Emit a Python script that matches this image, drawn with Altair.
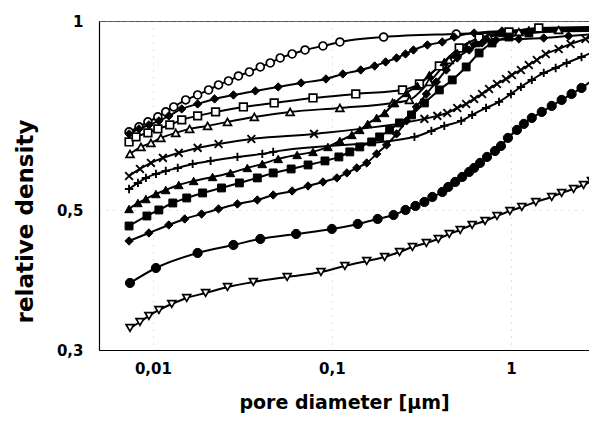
import altair as alt
import pandas as pd

# ---- data (pore diameter in µm, relative density) ----
oc_x = [0.00736, 0.00836, 0.00938, 0.01066, 0.0118, 0.01308, 0.01525, 0.01778, 0.02047, 0.02326, 0.02644,
        0.03005, 0.03459, 0.03981, 0.04524, 0.05142, 0.05995, 0.0708, 0.08913, 0.1108, 0.1945, 0.4948, 2.966]
oc_y = [0.6664, 0.6787, 0.6913, 0.7040, 0.7170, 0.7302, 0.7491, 0.7629, 0.7770, 0.7914, 0.8030,
        0.8178, 0.8299, 0.8452, 0.8577, 0.8735, 0.8864, 0.8994, 0.9127, 0.9261, 0.9431, 0.9535, 0.9641]

fd1_x = [0.00736, 0.00836, 0.0095, 0.0108, 0.01227, 0.01449, 0.01778, 0.0221, 0.02818, 0.03734, 0.05012,
         0.06725, 0.09262, 0.1151, 0.1449, 0.1733, 0.1995, 0.2297, 0.2578, 0.2854, 0.3415, 0.4137, 0.4823,
         0.6230, 0.8913, 2.966]
fd1_y = [0.6616, 0.6738, 0.6837, 0.6938, 0.7066, 0.7249, 0.7382, 0.7519, 0.7629, 0.7742, 0.7856,
         0.7972, 0.8089, 0.8238, 0.8360, 0.8483, 0.8608, 0.8735, 0.8864, 0.8994, 0.9160, 0.9261, 0.9431,
         0.9570, 0.9641, 0.9747]

os_x = [0.00736, 0.00805, 0.00938, 0.01066, 0.01243, 0.01449, 0.01778, 0.02239, 0.03203, 0.04761, 0.07842,
        0.1359, 0.248, 0.3083, 0.3981, 0.5142, 0.6640, 0.9747, 1.431, 2.966]
os_y = [0.6424, 0.6543, 0.6640, 0.6738, 0.6837, 0.6963, 0.7066, 0.7170, 0.7302, 0.7409, 0.7546,
        0.7657, 0.7770, 0.7943, 0.8483, 0.9060, 0.9397, 0.9605, 0.9747, 0.9783]

ot_x = [0.00745, 0.00858, 0.00975, 0.01108, 0.01342, 0.01605, 0.02021, 0.0261, 0.03687, 0.05843, 0.1108,
        0.2182, 0.2712, 0.3503, 0.4524, 0.5843, 0.7548, 1.108, 1.848, 2.966]
ot_y = [0.6149, 0.6308, 0.6401, 0.6519, 0.6640, 0.6738, 0.6812, 0.6913, 0.7040, 0.7170, 0.7275,
        0.7409, 0.7491, 0.8001, 0.8671, 0.9160, 0.9431, 0.9605, 0.9676, 0.9712]

xc_x = [0.00736, 0.00847, 0.00975, 0.01137, 0.01395, 0.01778, 0.02326, 0.03548, 0.07943, 0.3286, 0.3880,
        0.441, 0.5012, 0.5623, 0.6230, 0.6901, 0.7548, 0.8360, 0.9381, 1.013, 1.137, 1.259, 1.395, 1.565,
        1.848, 2.154, 2.610, 2.966]
xc_y = [0.5672, 0.5819, 0.5949, 0.6059, 0.6171, 0.6285, 0.6377, 0.6495, 0.6616, 0.6989, 0.7066,
        0.7143, 0.7275, 0.7382, 0.7519, 0.7657, 0.7799, 0.7943, 0.8089, 0.8208, 0.8360, 0.8514, 0.8671,
        0.8864, 0.9027, 0.9193, 0.9363, 0.9466]

pl_x = [0.00736, 0.00825, 0.00914, 0.0104, 0.0118, 0.01377, 0.01668, 0.021, 0.02966, 0.04084, 0.047,
        0.2891, 0.3594, 0.4244, 0.5275, 0.6072, 0.7263, 0.8577, 1.0, 1.137, 1.308, 1.525, 1.778, 2.047,
        2.480, 2.966]
pl_y = [0.5408, 0.5529, 0.5631, 0.5714, 0.5777, 0.5841, 0.5927, 0.5993, 0.6081, 0.6149, 0.6194,
        0.6543, 0.6688, 0.6812, 0.6938, 0.7091, 0.7275, 0.7437, 0.7657, 0.7856, 0.8060, 0.8269, 0.8420,
        0.8577, 0.8767, 0.8961]

ft_x = [0.00736, 0.00825, 0.00914, 0.0104, 0.0118, 0.01395, 0.0169, 0.02154, 0.02712, 0.03371, 0.04084,
        0.05012, 0.06391, 0.07842, 0.09502, 0.1108, 0.1292, 0.1431, 0.1585, 0.1778, 0.197, 0.2239, 0.2610,
        0.3005, 0.3503, 0.4244, 0.5012, 0.5623, 0.6391, 0.7356, 0.8913, 1.259, 2.966]
ft_y = [0.5027, 0.5138, 0.5213, 0.5310, 0.5388, 0.5488, 0.5569, 0.5651, 0.5735, 0.5841, 0.5927,
        0.6037, 0.6126, 0.6194, 0.6308, 0.6448, 0.6591, 0.6713, 0.6862, 0.7014, 0.7143, 0.7409, 0.7685,
        0.7885, 0.8208, 0.8608, 0.8896, 0.9060, 0.9227, 0.9397, 0.9570, 0.9676, 0.9747]

fs_x = [0.00736, 0.00926, 0.0108, 0.01292, 0.01545, 0.01896, 0.02416, 0.03043, 0.03831, 0.047, 0.05919,
        0.07356, 0.09145, 0.1094, 0.1259, 0.1431, 0.1668, 0.1848, 0.2100, 0.2386, 0.2783, 0.3286, 0.3981,
        0.4701, 0.5623, 0.6640, 0.7842, 0.9747, 1.259, 2.966]
fs_y = [0.4723, 0.4899, 0.5008, 0.5138, 0.5233, 0.5330, 0.5428, 0.5529, 0.5631, 0.5735, 0.5819,
        0.5905, 0.5993, 0.6081, 0.6194, 0.6308, 0.6424, 0.6543, 0.6713, 0.6887, 0.7091, 0.7409, 0.7770,
        0.8060, 0.8452, 0.8896, 0.9227, 0.9431, 0.9570, 0.9676]

fd2_x = [0.00736, 0.0095, 0.01227, 0.01506, 0.01871, 0.02326, 0.02966, 0.03831, 0.047, 0.05995, 0.07356,
         0.08913, 0.1066, 0.1212, 0.1377, 0.1565, 0.1778, 0.2021, 0.2297, 0.2610, 0.2966, 0.3371, 0.3831,
         0.4354, 0.5012, 0.5843, 0.6901, 0.8254, 1.108, 1.525, 2.100, 2.966]
fd2_y = [0.4471, 0.4604, 0.4741, 0.4846, 0.4935, 0.5027, 0.5119, 0.5195, 0.5291, 0.5369, 0.5468,
         0.5549, 0.5631, 0.5735, 0.5841, 0.5949, 0.6149, 0.6354, 0.6616, 0.6938, 0.7302, 0.7657, 0.8001,
         0.8360, 0.8735, 0.8994, 0.9227, 0.9328, 0.9363, 0.9397, 0.9466, 0.9535]

fc_x = [0.00745, 0.0104, 0.01778, 0.02818, 0.03981, 0.0631, 0.1, 0.1395, 0.1801, 0.221, 0.2578, 0.2929,
        0.3286, 0.364, 0.4137, 0.4467, 0.4886, 0.5343, 0.5843, 0.6230, 0.6726, 0.7356, 0.8148, 0.8799,
        0.9623, 1.080, 1.181, 1.308, 1.487, 1.690, 1.920, 2.182, 2.480, 2.966]
fc_y = [0.3834, 0.4050, 0.4279, 0.4406, 0.4504, 0.4587, 0.4672, 0.4758, 0.4846, 0.4917, 0.5008, 0.5082,
        0.5157, 0.5252, 0.5349, 0.5448, 0.5549, 0.5651, 0.5756, 0.5841, 0.5949, 0.6081, 0.6215, 0.6330,
        0.6519, 0.6713, 0.6862, 0.7014, 0.7170, 0.7329, 0.7491, 0.7657, 0.7827, 0.8119]

od_x = [0.00745, 0.00847, 0.0095, 0.0108, 0.01275, 0.01545, 0.0197, 0.0261, 0.0364, 0.05623, 0.08686,
        0.1181, 0.1565, 0.197, 0.2386, 0.2818, 0.3371, 0.393, 0.4524, 0.5208, 0.6072, 0.7170, 0.8360,
        0.9873, 1.151, 1.377, 1.690, 1.920, 2.239, 2.545, 2.818]
od_y = [0.3252, 0.3324, 0.3398, 0.3473, 0.3550, 0.3629, 0.3696, 0.3778, 0.3848, 0.3919, 0.3991,
        0.4080, 0.4155, 0.4217, 0.4294, 0.4374, 0.4438, 0.4504, 0.4587, 0.4655, 0.4741, 0.4811, 0.4899,
        0.4990, 0.5063, 0.5157, 0.5252, 0.5330, 0.5408, 0.5488, 0.5569]

x_ticks = [0.01, 0.1, 1]
y_ticks = [0.3, 0.5, 1]

CROSS_X = "M-1,-1L1,1M-1,1L1,-1"
PLUS = "M-1,0L1,0M0,-1L0,1"

# name, x, y, shape, style (hollow / filled / stroke), size
series = [
    ("s1", oc_x, oc_y, "circle", "hollow", 62),
    ("s2", fd1_x, fd1_y, "diamond", "filled", 70),
    ("s3", os_x, os_y, "square", "hollow", 58),
    ("s4", ot_x, ot_y, "triangle-up", "hollow", 62),
    ("s5", xc_x, xc_y, CROSS_X, "stroke", 60),
    ("s6", pl_x, pl_y, PLUS, "stroke", 70),
    ("s7", ft_x, ft_y, "triangle-up", "filled", 75),
    ("s8", fs_x, fs_y, "square", "filled", 62),
    ("s9", fd2_x, fd2_y, "diamond", "filled", 70),
    ("s10", fc_x, fc_y, "circle", "filled", 85),
    ("s11", od_x, od_y, "triangle-down", "hollow", 62),
]

rows = []
for name, xs, ys, *_ in series:
    for i, (xv, yv) in enumerate(zip(xs, ys)):
        rows.append({"series": name, "d": xv, "rho": yv, "i": i})
df = pd.DataFrame(rows)

FONT = "DejaVu Sans"

x_enc = alt.X(
    "d:Q",
    scale=alt.Scale(type="log", domain=[0.005, 2.73], nice=False),
    axis=alt.Axis(
        values=x_ticks,
        labelExpr="replace(toString(datum.value), '.', ',')",
        title="pore diameter [µm]",
        labelFont=FONT, labelFontWeight="bold", labelFontSize=15, labelColor="black",
        titleFont=FONT, titleFontWeight="bold", titleFontSize=19, titleColor="black",
        ticks=False, labelPadding=11, titlePadding=17,
        domainColor="black", domainWidth=1.2,
        grid=True, gridDash=[1, 6], gridColor="#aaaaaa", gridOpacity=0.7,
        labelFlush=False,
    ),
)
y_enc = alt.Y(
    "rho:Q",
    scale=alt.Scale(type="log", domain=[0.3, 1], nice=False),
    axis=alt.Axis(
        values=y_ticks,
        labelExpr="replace(toString(datum.value), '.', ',')",
        title="relative density",
        labelFont=FONT, labelFontWeight="bold", labelFontSize=15, labelColor="black",
        titleFont=FONT, titleFontWeight="bold", titleFontSize=23, titleColor="black",
        ticks=False, labelPadding=16,
        titleX=-74, titleY=200, titleBaseline="middle", titleAlign="center", titleAngle=270,
        domainColor="black", domainWidth=1.2,
        grid=True, gridDash=[1, 6], gridColor="#aaaaaa", gridOpacity=0.7,
        labelFlush=False,
    ),
)

base = alt.Chart(df)

lines = base.mark_line(color="black", strokeWidth=2, interpolate="monotone").encode(
    x=x_enc, y=y_enc, detail="series:N", order="i:Q"
)

layers = [lines]
for name, xs, ys, shape, style, size in series:
    if style == "hollow":
        kw = dict(shape=shape, filled=True, fill="white", stroke="black",
                  strokeWidth=1.7, size=size, opacity=1, fillOpacity=1)
    elif style == "filled":
        kw = dict(shape=shape, filled=True, fill="black", stroke="black",
                  strokeWidth=1, size=size, opacity=1, fillOpacity=1)
    else:
        kw = dict(shape=shape, filled=False, stroke="black",
                  strokeWidth=1.9, size=size, opacity=1)
    layers.append(
        base.transform_filter(alt.datum.series == name).mark_point(**kw).encode(
            x=x_enc, y=y_enc
        )
    )

chart = alt.layer(*layers).properties(
    width=490,
    height=329,
    padding={"left": 91, "top": 13, "right": 0, "bottom": 68},
    autosize=alt.AutoSizeParams(type="none"),
    background="white",
).configure_view(stroke="#555555", strokeWidth=1)

chart.save("out.html", embed_options={"renderer": "svg", "actions": False})
